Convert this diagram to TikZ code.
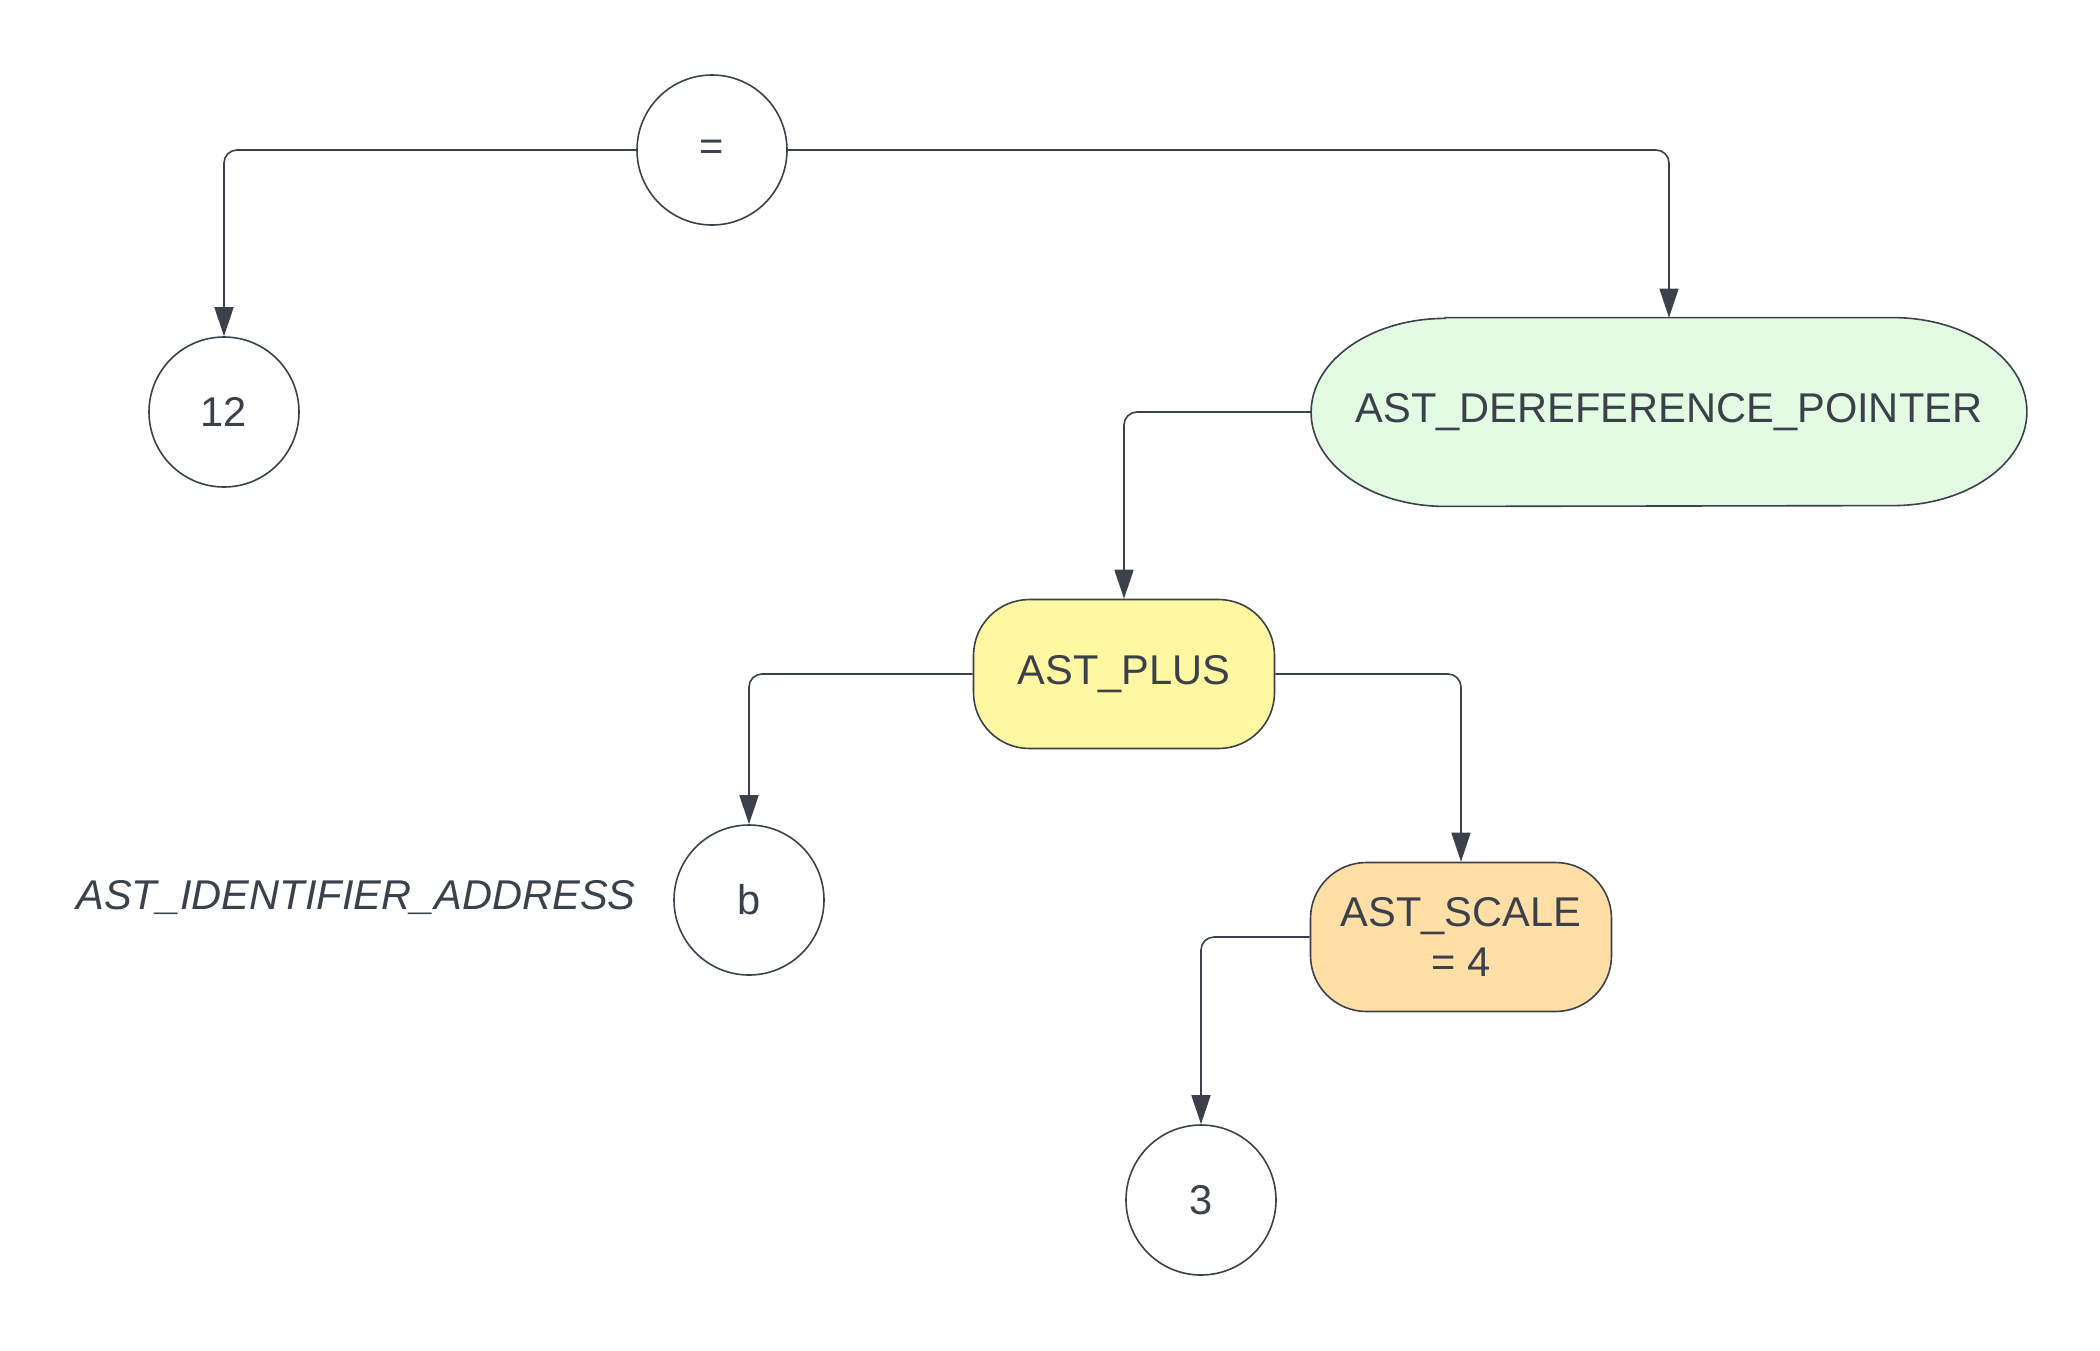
\documentclass[tikz,border=0pt]{standalone}
\usepackage{fontspec}
\setmainfont{Liberation Sans}
\usetikzlibrary{arrows.meta,backgrounds}
\definecolor{ink}{HTML}{3A414A}
\definecolor{gfill}{HTML}{E3FAE3}
\definecolor{yfill}{HTML}{FFF7A1}
\definecolor{ofill}{HTML}{FFDFA6}
\begin{document}
\begin{tikzpicture}[x=0.5pt,y=-0.5pt,
  every node/.style={text=ink, font=\fontsize{20.8}{25}\selectfont},
  circ/.style={circle, draw=ink, line width=0.8pt, fill=white, minimum size=75pt, inner sep=0pt},
  pill/.style={rectangle, rounded corners=28pt, draw=ink, line width=0.8pt, minimum width=150.5pt, minimum height=74.5pt, inner sep=0pt, align=center},
  stadium/.style={rectangle, minimum width=357.5pt, minimum height=94pt, inner sep=0pt},
  conn/.style={draw=ink, line width=0.8pt, rounded corners=6.5pt, -{Triangle[width=9.5pt,length=14.5pt]}},
  note/.style={font=\fontsize{20.8}{25}\selectfont\itshape}
]
\useasboundingbox (0,0) rectangle (2100,1350);
\node[circ] (eq) at (712,150) {=};
\node[circ] (n12) at (224,412) {12};
\node[stadium] (deref) at (1669,412) {AST\_DEREFERENCE\_POINTER};
\node[pill, fill=yfill] (plus) at (1124,674) {AST\_PLUS};
\node[circ] (b) at (749,900) {b};
\node[note] (lbl) at (356,898) {AST\_IDENTIFIER\_ADDRESS};
\node[pill, fill=ofill] (scale) at (1461,937) {AST\_SCALE\\= 4};
\node[circ] (three) at (1201,1200) {3};
\begin{scope}[on background layer]
  \fill[white] (0,0) rectangle (2100,1350);
  \draw[ink, line width=0.8pt, fill=gfill]
    ([xshift=67pt]deref.north west) -- ([xshift=-67pt]deref.north east)
    arc[start angle=90, end angle=-90, x radius=67pt, y radius=47pt]
    -- ([xshift=67pt]deref.south west)
    arc[start angle=270, end angle=90, x radius=67pt, y radius=47pt] -- cycle;
\end{scope}
\draw[conn] (eq.west) -| (n12.north);
\draw[conn] (eq.east) -| (deref.north);
\draw[conn] (deref.west) -| (plus.north);
\draw[conn] (plus.west) -| (b.north);
\draw[conn] (plus.east) -| (scale.north);
\draw[conn] (scale.west) -| (three.north);
\end{tikzpicture}
\end{document}
